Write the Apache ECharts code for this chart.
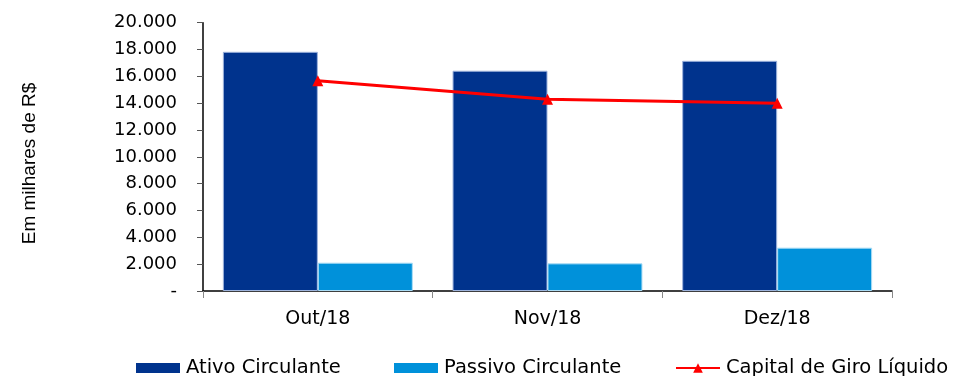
<!DOCTYPE html>
<html><head><meta charset="utf-8">
<script src="https://cdn.jsdelivr.net/npm/echarts@6/dist/echarts.min.js"></script>
<style>html,body{margin:0;padding:0;background:#fff}#c{width:955px;height:376px}</style>
</head><body><div id="c"></div>
<script>
const categories = ['Out/18', 'Nov/18', 'Dez/18'];
const seriesNames = ['Ativo Circulante', 'Passivo Circulante', 'Capital de Giro Líquido'];
const ativo = [17830, 16420, 17160];
const passivo = [2110, 2060, 3230];
const capital = [15670, 14290, 13990];
const yTicks = { min: 0, max: 20000, interval: 2000 };

function fmt(v) {
  if (v === 0) return '-';
  return String(v).replace(/\B(?=(\d{3})+(?!\d))/g, '.');
}
const FONT = '"DejaVu Sans", "Liberation Sans", sans-serif';
const legendLefts = [136, 394, 675];
const legendIcons = ['rect', 'rect', undefined];

const chart = echarts.init(document.getElementById('c'), null, { renderer: 'canvas' });
chart.setOption({
  animation: false,
  backgroundColor: '#fff',
  grid: { left: 203, right: 63, top: 22.7, bottom: 85, containLabel: false },
  legend: seriesNames.map((n, i) => ({
    left: legendLefts[i], top: 358, padding: 0, itemWidth: 44, itemHeight: i === 2 ? 12 : 10, itemGap: 0,
    itemStyle: { borderWidth: 0 },
    textStyle: { fontFamily: FONT, fontSize: 19.5, color: '#000', padding: [0,0,0,1] },
    data: [legendIcons[i] ? { name: n, icon: legendIcons[i] } : { name: n }]
  })),
  graphic: [{
    type: 'text', x: 30, y: 163.5, rotation: Math.PI / 2,
    style: { text: 'Em milhares de R$', fontFamily: '"Liberation Sans", Arial, sans-serif', fontSize: 19, fill: '#000', align: 'center', verticalAlign: 'middle' }
  }],
  xAxis: {
    type: 'category', data: categories,
    axisLine: { lineStyle: { color: '#000', width: 1.5 } },
    axisTick: { show: true, length: 7, lineStyle: { color: '#888' } },
    axisLabel: { color: '#000', fontSize: 19, margin: 19, fontFamily: FONT }
  },
  yAxis: {
    type: 'value', min: yTicks.min, max: yTicks.max, interval: yTicks.interval,
    axisLine: { show: true, lineStyle: { color: '#000', width: 1.5 } },
    axisTick: { show: true, length: 6, lineStyle: { color: '#555' } },
    splitLine: { show: false },
    axisLabel: { color: '#000', fontSize: 18, margin: 26, formatter: fmt, fontFamily: FONT }
  },
  series: [
    { name: seriesNames[0], type: 'bar', data: ativo, barGap: '0%', barCategoryGap: '17.3%',
      itemStyle: { color: '#00338D', borderColor: '#9db3dc', borderWidth: 1 } },
    { name: seriesNames[1], type: 'bar', data: passivo,
      itemStyle: { color: '#0091DA', borderColor: '#a9dcf5', borderWidth: 1 } },
    { name: seriesNames[2], type: 'line', data: capital,
      symbol: 'triangle', symbolSize: 11,
      lineStyle: { color: '#FF0000', width: 3 }, itemStyle: { color: '#FF0000' } }
  ]
});
</script></body></html>
